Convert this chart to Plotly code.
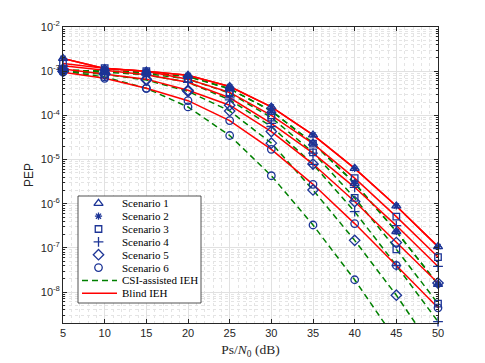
import numpy as np
import plotly.graph_objects as go

# SNR points (dB)
snr = [5, 10, 15, 20, 25, 30, 35, 40, 45, 50]

# PEP, CSI-assisted IEH (green dashed)
csi_s1 = [1.05e-3, 1.0e-3, 9.5e-4, 7.6e-4, 4.0e-4, 1.26e-4, 2.35e-5, 2.9e-6, 2.35e-7, 1.5e-8]
csi_s2 = [1.05e-3, 1.0e-3, 9.5e-4, 7.6e-4, 4.0e-4, 1.26e-4, 2.35e-5, 2.9e-6, 2.35e-7, 1.5e-8]
csi_s3 = [1.05e-3, 1.0e-3, 8.9e-4, 6.6e-4, 3.2e-4, 8.9e-5, 1.45e-5, 1.35e-6, 9.3e-8, 5.5e-9]
csi_s4 = [1.0e-3, 9.5e-4, 8.3e-4, 5.6e-4, 2.25e-4, 5.6e-5, 7.8e-6, 6.6e-7, 4.0e-8, 2.15e-9]
csi_s5 = [1.0e-3, 8.5e-4, 6.3e-4, 3.5e-4, 1.26e-4, 2.35e-5, 2.05e-6, 1.48e-7, 8.5e-9, 3.5e-10]
csi_s6 = [1.0e-3, 7.4e-4, 4.1e-4, 1.55e-4, 3.5e-5, 4.3e-6, 3.3e-7, 1.9e-8, 8e-10, 3e-11]

# PEP, blind IEH (red solid)
blind_s1 = [1.95e-3, 1.15e-3, 1.0e-3, 8.1e-4, 4.5e-4, 1.55e-4, 3.6e-5, 6.3e-6, 8.9e-7, 1.07e-7]
blind_s2 = [1.95e-3, 1.15e-3, 1.0e-3, 8.1e-4, 4.5e-4, 1.55e-4, 3.6e-5, 6.3e-6, 8.9e-7, 1.07e-7]
blind_s3 = [1.5e-3, 1.17e-3, 1.0e-3, 6.6e-4, 3.3e-4, 1.0e-4, 2.3e-5, 3.8e-6, 5.1e-7, 6.2e-8]
blind_s4 = [1.32e-3, 1.05e-3, 8.3e-4, 5.6e-4, 2.5e-4, 6.6e-5, 1.4e-5, 2.35e-6, 3.2e-7, 3.8e-8]
blind_s5 = [1.12e-3, 8.7e-4, 6.6e-4, 3.7e-4, 1.7e-4, 4.3e-5, 7.9e-6, 1.12e-6, 1.32e-7, 1.6e-8]
blind_s6 = [9.5e-4, 6.9e-4, 4.1e-4, 2.15e-4, 7.6e-5, 1.7e-5, 2.75e-6, 3.55e-7, 4.0e-8, 4.4e-9]

scenarios = ["Scenario 1", "Scenario 2", "Scenario 3", "Scenario 4", "Scenario 5", "Scenario 6"]
symbols = ["triangle-up-open", "asterisk-open", "square-open", "cross-thin-open", "diamond-open", "circle-open"]
sizes = [8, 6, 6.5, 7, 8, 7.5]

csi = [csi_s1, csi_s2, csi_s3, csi_s4, csi_s5, csi_s6]
blind = [blind_s1, blind_s2, blind_s3, blind_s4, blind_s5, blind_s6]

ytickvals = [1e-8, 1e-7, 1e-6, 1e-5, 1e-4, 1e-3, 1e-2]
yticktext = ["10<sup>-8</sup>", "10<sup>-7</sup>", "10<sup>-6</sup>", "10<sup>-5</sup>",
             "10<sup>-4</sup>", "10<sup>-3</sup>", "10<sup>-2</sup>"]

YLOG = [-8.7, -2]
BLUE = "rgb(28,52,150)"
GREEN = "rgb(0,128,0)"
RED = "rgb(255,0,0)"
DARK = "rgb(38,38,38)"

fig = go.Figure()

# curves
for vals in csi:
    fig.add_trace(go.Scatter(x=snr, y=vals, mode="lines", showlegend=False,
                             line=dict(color=GREEN, width=1.5, dash="6px,4px")))
for vals in blind:
    fig.add_trace(go.Scatter(x=snr, y=vals, mode="lines", showlegend=False,
                             line=dict(color=RED, width=1.5)))


def visible_pts(vals):
    # drop points that fall below the y axis
    return [v if np.log10(v) >= YLOG[0] - 0.05 else None for v in vals]


# simulation markers
for i in range(6):
    for vals in (csi[i], blind[i]):
        fig.add_trace(go.Scatter(x=snr, y=visible_pts(vals), mode="markers", showlegend=False,
                                 cliponaxis=False,
                                 marker=dict(symbol=symbols[i], size=sizes[i], color=BLUE,
                                             line=dict(color=BLUE, width=1.3))))

# page has an 8px body margin, so the figure is drawn 8px smaller and offset
W, H = 477, 355
L, R, T, B = 55, 430, 19, 315   # plot area in figure pixels

# hand-drawn legend on an overlay axis measured in pixels of the figure
box_x0, box_x1, box_y0, box_y1 = 70, 193, 188, 295
row0, drow = 195.3, 12.85
fig.add_trace(go.Scatter(x=[box_x0, box_x1, box_x1, box_x0, box_x0],
                         y=[box_y0, box_y0, box_y1, box_y1, box_y0],
                         xaxis="x2", yaxis="y2", mode="lines", fill="toself",
                         fillcolor="white", line=dict(color=DARK, width=0.8),
                         showlegend=False, hoverinfo="skip"))
for i in range(6):
    fig.add_trace(go.Scatter(x=[90.5], y=[row0 + i * drow], xaxis="x2", yaxis="y2",
                             mode="markers", showlegend=False,
                             marker=dict(symbol=symbols[i], size=sizes[i], color=BLUE,
                                         line=dict(color=BLUE, width=1.3))))
fig.add_trace(go.Scatter(x=[74, 109], y=[row0 + 6 * drow] * 2, xaxis="x2", yaxis="y2",
                         mode="lines", showlegend=False,
                         line=dict(color=GREEN, width=1.5, dash="6px,4px")))
fig.add_trace(go.Scatter(x=[74, 109], y=[row0 + 7 * drow] * 2, xaxis="x2", yaxis="y2",
                         mode="lines", showlegend=False,
                         line=dict(color=RED, width=1.5)))

legend_names = scenarios + ["CSI-assisted IEH", "Blind IEH"]
for i, name in enumerate(legend_names):
    fig.add_annotation(x=111.5, y=row0 + i * drow, xref="x2", yref="y2", text=name,
                       showarrow=False, xanchor="left", yanchor="middle",
                       font=dict(family="Liberation Serif", size=11, color="black"))

axis_common = dict(showline=True, linecolor=DARK, linewidth=0.8, mirror="allticks",
                   ticks="inside", ticklen=4, tickcolor=DARK, automargin=False,
                   showgrid=True, gridcolor="rgb(225,225,225)", gridwidth=1,
                   zeroline=False,
                   tickfont=dict(family="Liberation Sans", size=11, color=DARK))

fig.update_layout(
    width=W, height=H,
    margin=dict(l=L, r=W - R, t=T, b=H - B),
    paper_bgcolor="white", plot_bgcolor="white",
    showlegend=False,
    xaxis=dict(range=[5, 50], tick0=5, dtick=5,
               minor=dict(dtick=1, showgrid=True, gridcolor="rgb(228,228,228)",
                          griddash="dot", ticks=""),
               title=dict(text="Ps/<i>N</i><sub>0</sub> (dB)", standoff=6,
                          font=dict(family="Liberation Serif", size=13.5, color=DARK)),
               **axis_common),
    yaxis=dict(type="log", range=YLOG, tickmode="array", tickvals=ytickvals,
               ticktext=yticktext,
               minor=dict(tickmode="array",
                          tickvals=[k * 10.0 ** e for e in range(-9, -2) for k in range(2, 10)],
                          showgrid=True, gridcolor="rgb(228,228,228)", griddash="dot",
                          ticks="inside", ticklen=2, tickcolor=DARK),
               title=dict(text="PEP", standoff=4,
                          font=dict(family="Liberation Sans", size=12, color=DARK)),
               **axis_common),
    xaxis2=dict(range=[L, R], overlaying="x", anchor="y2", visible=False),
    yaxis2=dict(range=[B, T], overlaying="y", anchor="x2", visible=False),
)

fig.write_html("out.html")
